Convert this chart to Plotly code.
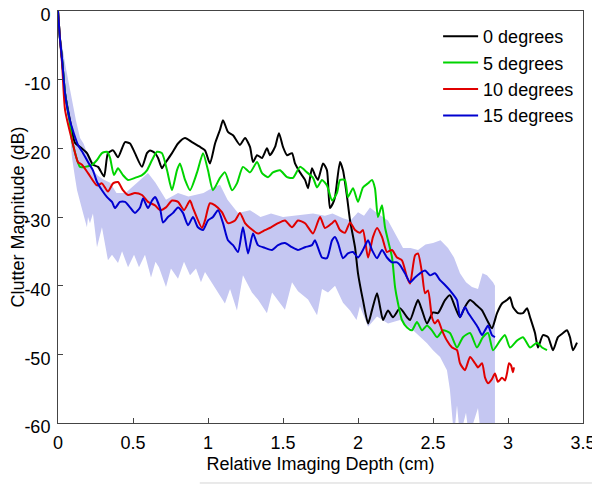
import plotly.graph_objects as go

# ---------------- data ----------------
x_black = [0, 0.013, 0.027, 0.047, 0.08, 0.113, 0.147, 0.193, 0.233, 0.267, 0.307, 0.333, 0.367, 0.4, 0.447, 0.48,
           0.513, 0.56, 0.593, 0.613, 0.647, 0.667, 0.693, 0.713, 0.76, 0.8, 0.847, 0.893, 0.947, 0.98, 1.013, 1.047,
           1.08, 1.1, 1.133, 1.167, 1.213, 1.247, 1.28, 1.3, 1.327, 1.36, 1.393, 1.413, 1.447, 1.473, 1.5, 1.527,
           1.56, 1.58, 1.613, 1.647, 1.667, 1.693, 1.713, 1.733, 1.767, 1.793, 1.813, 1.833, 1.847, 1.88, 1.9,
           1.927, 1.947, 1.98, 2.0, 2.033, 2.067, 2.093, 2.127, 2.147, 2.167, 2.2, 2.233, 2.28, 2.327, 2.347, 2.38,
           2.4, 2.427, 2.46, 2.5, 2.533, 2.58, 2.613, 2.647, 2.68, 2.713, 2.747, 2.793, 2.827, 2.86, 2.893, 2.927,
           2.96, 2.993, 3.013, 3.033, 3.067, 3.1, 3.127, 3.147, 3.18, 3.2, 3.233, 3.267, 3.3, 3.333, 3.367, 3.393,
           3.413, 3.433, 3.46]
y_black = [0, -4, -7, -12, -15.9, -19.2, -19.8, -20.7, -22.4, -22.7, -24.1, -20.7, -20.3, -21.3, -19.1, -19.3,
           -20.7, -22.7, -20.7, -20.3, -20.7, -21.4, -22.9, -22.2, -20.7, -19.3, -18.5, -19.1, -19.8, -20.3, -22.2,
           -19.3, -17.3, -15.9, -17.6, -18.1, -19.5, -18.5, -19.8, -22, -21, -21.4, -20, -21, -19.8, -17.8, -19.8,
           -21, -20.7, -22.2, -23.5, -24.6, -25.8, -22.9, -23.9, -24.6, -22.2, -23.2, -28.7, -28, -27.1, -22, -23.2,
           -27.1, -30.5, -34.4, -38.2, -42.1, -45.5, -43.6, -41.1, -43.1, -45, -43.6, -44.6, -43.3, -44.6, -45,
           -43.1, -42.1, -43.6, -45.5, -43.9, -44, -42.1, -41.4, -43.1, -44.6, -43.1, -42.1, -42.9, -43.6, -45,
           -46.2, -44, -42.6, -42.1, -41.7, -43.1, -44, -44, -43.3, -44.6, -46.9, -49, -47.2, -47.5, -49.4, -47.5,
           -46.9, -46.5, -47.5, -49.4, -48.3]

x_green = [0, 0.013, 0.027, 0.047, 0.08, 0.093, 0.147, 0.18, 0.227, 0.26, 0.293, 0.327, 0.347, 0.373, 0.4, 0.433,
           0.467, 0.513, 0.56, 0.593, 0.627, 0.66, 0.693, 0.727, 0.76, 0.793, 0.813, 0.847, 0.88, 0.927, 0.967, 1.0,
           1.033, 1.08, 1.113, 1.16, 1.193, 1.233, 1.28, 1.327, 1.36, 1.4, 1.433, 1.48, 1.527, 1.567, 1.613, 1.66,
           1.7, 1.727, 1.76, 1.793, 1.827, 1.86, 1.88, 1.913, 1.933, 1.967, 2.0, 2.033, 2.067, 2.093, 2.113, 2.133,
           2.16, 2.18, 2.2, 2.227, 2.247, 2.267, 2.293, 2.327, 2.36, 2.393, 2.427, 2.46, 2.493, 2.527, 2.567, 2.613,
           2.66, 2.7, 2.747, 2.793, 2.833, 2.867, 2.9, 2.947, 2.98, 3.013, 3.06, 3.1, 3.147, 3.193, 3.227, 3.26]
y_green = [0, -4, -7, -12, -16.5, -18.8, -22.7, -22.7, -22.4, -21.7, -20.7, -20.5, -21.4, -23.9, -22.9, -23.9,
           -24.6, -24.3, -23.9, -23.2, -21.7, -20.5, -20.7, -23.2, -26.1, -23.2, -22.2, -24.6, -26.1, -23.5, -20.7,
           -23.2, -26.1, -24.3, -23.5, -26.1, -25.1, -22.7, -23.5, -22, -23.6, -24.2, -23.5, -23.2, -24.2, -24.3,
           -22.7, -23.5, -24.3, -25.7, -24.6, -25.4, -27.6, -26.5, -24.6, -24.6, -27.1, -25.8, -27.8, -25.7, -25.1,
           -24.6, -25.8, -30, -28.3, -31.5, -33.4, -35.9, -40.2, -42.6, -45, -46.1, -46.5, -45.3, -46.5, -45.8,
           -46.5, -47.5, -46.5, -46.9, -49, -47.5, -46.9, -49, -47.5, -46.9, -49.4, -48, -47.2, -49, -48, -47.5,
           -49, -48.3, -49, -49.4]

x_red = [0, 0.013, 0.027, 0.047, 0.093, 0.133, 0.16, 0.2, 0.26, 0.293, 0.333, 0.367, 0.4, 0.433, 0.467, 0.513,
         0.56, 0.6, 0.647, 0.68, 0.72, 0.76, 0.8, 0.84, 0.88, 0.9, 0.96, 0.98, 1.013, 1.047, 1.093, 1.133, 1.18,
         1.213, 1.247, 1.28, 1.333, 1.38, 1.42, 1.467, 1.513, 1.56, 1.6, 1.647, 1.7, 1.747, 1.78, 1.827, 1.847,
         1.88, 1.913, 1.947, 1.98, 2.013, 2.033, 2.067, 2.1, 2.127, 2.16, 2.193, 2.227, 2.26, 2.293, 2.327, 2.347,
         2.38, 2.4, 2.427, 2.447, 2.467, 2.493, 2.513, 2.533, 2.56, 2.593, 2.627, 2.66, 2.68, 2.713, 2.747, 2.78,
         2.8, 2.827, 2.847, 2.867, 2.893, 2.913, 2.933, 2.96, 2.98, 2.993, 3.007, 3.02, 3.033, 3.04]
y_red = [0, -4, -7.5, -14.4, -18.8, -22, -22.4, -23.6, -25.4, -25.1, -26.3, -25.1, -24.9, -26.1, -26.8, -26.5,
         -26.8, -27.8, -28.3, -29, -28.6, -27.6, -27.8, -29, -27.6, -28.7, -31.6, -30.5, -28, -28.3, -29.3,
         -30.9, -30.5, -29.4, -30.9, -31.6, -32.4, -31.9, -31.5, -30.9, -30.5, -31.5, -30.5, -30.9, -32.4, -30,
         -31.6, -30.9, -30.5, -31.9, -32.3, -30.8, -31.9, -32.3, -31.9, -35.9, -32.9, -31.6, -32.9, -35.1, -34.8,
         -35.9, -36.3, -38.8, -39.7, -35.6, -35.3, -38.2, -41.1, -40.7, -44.6, -45.5, -45, -46.5, -48, -49,
         -49.4, -51.3, -52.3, -50.4, -51.3, -51.9, -51.3, -53.4, -54.2, -53.6, -52.8, -54, -53.4, -53.8, -52.8,
         -51.3, -51.6, -52.6, -51.9]

x_blue = [0, 0.013, 0.027, 0.047, 0.08, 0.133, 0.167, 0.2, 0.233, 0.26, 0.293, 0.327, 0.36, 0.38, 0.413, 0.447,
          0.48, 0.513, 0.547, 0.567, 0.6, 0.627, 0.647, 0.68, 0.7, 0.733, 0.767, 0.8, 0.833, 0.867, 0.9, 0.933,
          0.967, 1.0, 1.033, 1.067, 1.1, 1.133, 1.167, 1.2, 1.233, 1.267, 1.3, 1.333, 1.38, 1.427, 1.467, 1.513,
          1.56, 1.6, 1.647, 1.693, 1.713, 1.76, 1.793, 1.827, 1.847, 1.867, 1.9, 1.933, 1.967, 2.0, 2.033, 2.067,
          2.093, 2.127, 2.16, 2.193, 2.227, 2.26, 2.28, 2.313, 2.347, 2.38, 2.413, 2.447, 2.48, 2.513, 2.547, 2.58,
          2.613, 2.66, 2.68, 2.713, 2.733, 2.767, 2.8, 2.827, 2.847, 2.867, 2.893, 2.913]
y_blue = [0, -4, -7, -12, -16, -19.5, -20.7, -22, -23.2, -24.9, -26.1, -27.1, -27.8, -28.7, -27.8, -27.8, -28.6,
          -29.4, -28.6, -27.3, -28.7, -27.6, -27.1, -28.7, -30.8, -30, -29.4, -28.6, -29.4, -31.2, -30, -31.5,
          -31.9, -30.5, -30, -29, -30.9, -33.4, -34.1, -35.1, -31.5, -35.3, -32.4, -34.1, -34.5, -34.8, -34.1,
          -33.8, -34.4, -34.8, -34.4, -34.1, -33.4, -35.9, -36, -33.4, -32.9, -33.8, -36, -35.3, -35.1, -35.9,
          -34.8, -33.4, -34.8, -36, -34.8, -35.9, -36.6, -36.6, -37, -38.2, -39.5, -38.8, -38.2, -37.8, -38.5,
          -38.2, -39.2, -39.9, -40.7, -42.1, -44.6, -43.1, -43.9, -45, -46.1, -47.2, -46.5, -45.8, -47.2, -47.5]

# spread band: upper and lower bounds
x_band_upper = [0, 0.02, 0.05, 0.08, 0.093, 0.12, 0.147, 0.17, 0.2, 0.233, 0.267, 0.3, 0.347, 0.39, 0.45, 0.5,
                0.55, 0.6, 0.65, 0.72, 0.8, 0.87, 0.97, 1.0, 1.033, 1.08, 1.13, 1.2, 1.28, 1.35, 1.42, 1.5, 1.6,
                1.7, 1.78, 1.83, 1.9, 1.95, 2.0, 2.04, 2.08, 2.13, 2.2, 2.26, 2.3, 2.35, 2.4, 2.45, 2.5, 2.55,
                2.6, 2.64, 2.68, 2.72, 2.76, 2.8, 2.83, 2.86, 2.9, 2.913]
y_band_upper = [0, -4, -8, -11.5, -13, -16, -18.5, -19.3, -21, -23.2, -24, -24.5, -25, -26.5, -26.5, -25.5,
                -24.5, -23.6, -25, -27.5, -26.5, -27, -26.5, -26.1, -25.7, -25.3, -27.5, -29.4, -29, -30, -29.5,
                -30, -29.7, -29.5, -29.8, -29.5, -30.2, -30.5, -29.3, -29.8, -28.6, -29.5, -30.5, -32.9, -34.5,
                -34.5, -34.8, -34, -33.8, -33.4, -34.5, -35.9, -38.2, -39.5, -40.2, -40.5, -38.2, -38.5, -39.5, -40]
x_band_lower = [0, 0.013, 0.033, 0.06, 0.08, 0.093, 0.113, 0.127, 0.167, 0.193, 0.2, 0.213, 0.233, 0.26, 0.293,
                0.333, 0.36, 0.4, 0.427, 0.467, 0.507, 0.54, 0.58, 0.62, 0.65, 0.673, 0.72, 0.753, 0.8, 0.84, 0.88,
                0.92, 0.953, 0.98, 1.04, 1.113, 1.147, 1.193, 1.233, 1.293, 1.333, 1.393, 1.427, 1.46, 1.513, 1.56,
                1.6, 1.667, 1.727, 1.76, 1.8, 1.847, 1.9, 1.947, 1.99, 2.013, 2.067, 2.127, 2.2, 2.28, 2.367, 2.46,
                2.5, 2.547, 2.593, 2.613, 2.64, 2.66, 2.68, 2.72, 2.74, 2.8, 2.82, 2.913]
y_band_lower = [-1, -6, -10.5, -14.4, -17.8, -21.3, -24.2, -26.1, -29.4, -31.5, -30, -30.9, -29.5, -34.4, -31.5,
                -36.3, -35.5, -36.7, -35, -37.3, -35.5, -37.3, -35.5, -38.8, -36.5, -37.3, -40.2, -37.5, -39, -36.5,
                -38.5, -37.5, -39.5, -38, -40, -42.6, -40.5, -43.6, -38.5, -41, -42, -44, -41, -42, -43.5, -39.5,
                -40.8, -42, -44.3, -40.5, -41, -40, -42.5, -43.6, -45, -43, -46, -44.5, -45.5, -45, -46.5, -48.4,
                -49.4, -50.4, -52.3, -55.2, -62, -57.4, -62, -58.5, -62, -57.8, -62, -62]

x_ticks = [0, 0.5, 1, 1.5, 2, 2.5, 3, 3.5]
y_ticks = [0, -10, -20, -30, -40, -50, -60]
series_names = ["0 degrees", "5 degrees", "10 degrees", "15 degrees"]
series_colors = ["#000000", "#00d400", "#e00000", "#0000d0"]

# ---------------- figure ----------------
fig = go.Figure()

band_x = x_band_upper + x_band_lower[::-1]
band_y = y_band_upper + y_band_lower[::-1]
fig.add_trace(go.Scatter(x=band_x, y=band_y, fill="toself", mode="lines",
                         line=dict(width=0), fillcolor="rgb(197,199,242)",
                         showlegend=False, hoverinfo="skip"))

for name, color, xs, ys in zip(series_names, series_colors,
                               [x_black, x_green, x_red, x_blue],
                               [y_black, y_green, y_red, y_blue]):
    fig.add_trace(go.Scatter(x=xs, y=ys, mode="lines", name=name,
                             line=dict(color=color, width=2, shape="spline", smoothing=0.6)))

font_family = "Liberation Sans, Arial, Helvetica, sans-serif"

# page body adds an 8px margin, so the figure is 592x477 and margins are offset accordingly
fig.update_layout(
    width=592, height=477,
    margin=dict(l=50, r=17, t=3, b=62, autoexpand=False),
    paper_bgcolor="white", plot_bgcolor="white",
    font=dict(family=font_family, size=18, color="black"),
    showlegend=True,
    legend=dict(x=0.724, y=0.983, xanchor="left", yanchor="top",
                bgcolor="white", borderwidth=0, itemwidth=35,
                font=dict(size=18, family=font_family),
                tracegroupgap=0),
    xaxis=dict(range=[0, 3.5], tickvals=x_ticks, ticktext=[str(v) for v in x_ticks],
               automargin=False, ticklabeloverflow="allow",
               showgrid=False, zeroline=False, showline=True, linecolor="#444", linewidth=1,
               mirror=True, ticks="inside", ticklen=5, tickcolor="#444",
               tickfont=dict(size=18), ticklabelstandoff=3,
               title=dict(text="Relative Imaging Depth (cm)", standoff=5,
                          font=dict(size=18))),
    yaxis=dict(range=[-60, 0], tickvals=y_ticks, ticktext=[str(v) for v in y_ticks],
               automargin=False, ticklabeloverflow="allow",
               showgrid=False, zeroline=False, showline=True, linecolor="#444", linewidth=1,
               mirror=True, ticks="inside", ticklen=5, tickcolor="#444",
               tickfont=dict(size=18), ticklabelstandoff=3, ticklabelshift=4,
               title=dict(text="Clutter Magnitude (dB)", standoff=1,
                          font=dict(size=18))),
)

fig.add_shape(type="line", xref="paper", yref="paper",
              x0=0.27, x1=1.017, y0=-0.1456, y1=-0.1456,
              line=dict(color="#d4d4d4", width=1))

fig.write_html("out.html")
